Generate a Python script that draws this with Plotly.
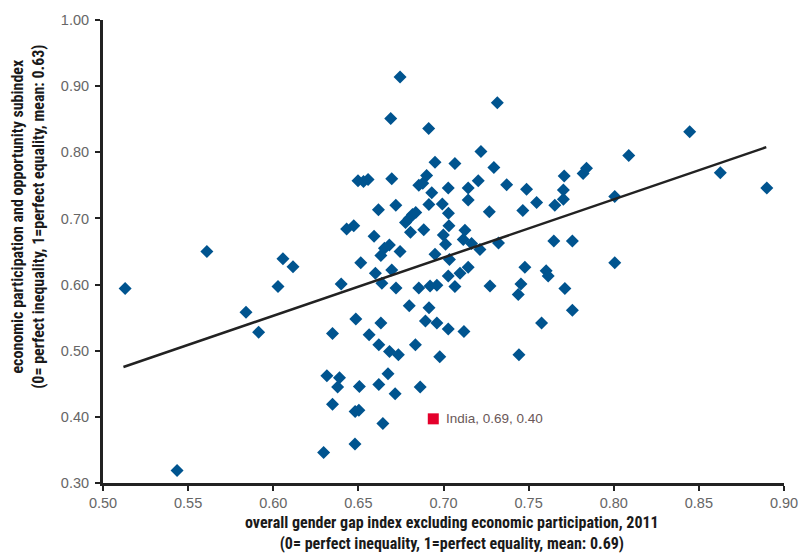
import plotly.graph_objects as go

# Countries: (overall gender gap index excl. economic participation, economic participation subindex)
gap_index = [
    0.513, 0.5435, 0.561, 0.584, 0.5914, 0.6028, 0.6057, 0.6116,
    0.6296, 0.6315, 0.6348, 0.6348, 0.6378, 0.6389, 0.6399, 0.6431, 0.6473,
    0.648, 0.6481, 0.6503, 0.6485, 0.6506, 0.6498, 0.653, 0.6557, 0.6514,
    0.6563, 0.6592, 0.66, 0.6618, 0.662, 0.662, 0.6632, 0.6638, 0.6632,
    0.6644, 0.6653, 0.6674, 0.6683, 0.6682, 0.669, 0.6696, 0.6696, 0.6721,
    0.6716, 0.672, 0.6735, 0.6745, 0.6745, 0.6777, 0.6798, 0.6818, 0.6837,
    0.6799, 0.6806, 0.6835, 0.6855, 0.6878, 0.6855, 0.6863, 0.6884, 0.6894,
    0.6901, 0.6913, 0.6914, 0.6915, 0.6921, 0.6931, 0.695, 0.695, 0.6961,
    0.6961, 0.6978, 0.6993, 0.6999, 0.7012, 0.7028, 0.7029, 0.7032, 0.7035,
    0.7028, 0.7028, 0.7067, 0.7067, 0.7097, 0.7116, 0.7126, 0.712, 0.7145,
    0.7145, 0.7145, 0.7165, 0.7204, 0.7214, 0.722, 0.7269, 0.7273, 0.7296,
    0.7316, 0.7323, 0.7371, 0.7439, 0.7443, 0.7455, 0.7466, 0.7478, 0.7488,
    0.7547, 0.7576, 0.7603, 0.7615, 0.7648, 0.7654, 0.7704, 0.7704, 0.7709,
    0.7713, 0.7757, 0.7757, 0.782, 0.784, 0.8006, 0.8006, 0.8088, 0.8446,
    0.8626, 0.8899,
]
econ_subindex = [
    0.594, 0.319, 0.650, 0.558, 0.528, 0.597, 0.639, 0.627,
    0.346, 0.462, 0.419, 0.526, 0.445, 0.459, 0.601, 0.684, 0.689,
    0.359, 0.408, 0.410, 0.548, 0.446, 0.757, 0.756, 0.759, 0.633,
    0.524, 0.673, 0.617, 0.713, 0.509, 0.449, 0.542, 0.602, 0.644,
    0.390, 0.655, 0.465, 0.499, 0.660, 0.851, 0.760, 0.622, 0.595,
    0.435, 0.720, 0.494, 0.914, 0.650, 0.694, 0.700, 0.706, 0.709,
    0.568, 0.679, 0.509, 0.750, 0.753, 0.595, 0.445, 0.683, 0.545,
    0.765, 0.836, 0.721, 0.565, 0.598, 0.739, 0.785, 0.646, 0.599,
    0.542, 0.491, 0.722, 0.675, 0.661, 0.746, 0.708, 0.689, 0.638,
    0.613, 0.533, 0.783, 0.597, 0.617, 0.668, 0.682, 0.529, 0.746,
    0.728, 0.626, 0.662, 0.757, 0.653, 0.801, 0.710, 0.598, 0.777,
    0.875, 0.663, 0.751, 0.585, 0.494, 0.601, 0.712, 0.626, 0.744,
    0.724, 0.542, 0.621, 0.613, 0.666, 0.720, 0.743, 0.729, 0.764,
    0.594, 0.666, 0.561, 0.768, 0.776, 0.733, 0.633, 0.795, 0.831,
    0.769, 0.746,
]

highlight_name = "India"
highlight_x = [0.694]
highlight_y = [0.397]
highlight_label = "India, 0.69, 0.40"

# Linear trendline endpoints
trend_x = [0.512, 0.8896]
trend_y = [0.4754, 0.8077]

x_ticks = [0.50, 0.55, 0.60, 0.65, 0.70, 0.75, 0.80, 0.85, 0.90]
y_ticks = [0.30, 0.40, 0.50, 0.60, 0.70, 0.80, 0.90, 1.00]

x_title = ("<b>overall gender gap index excluding economic participation, 2011</b><br>"
           "<b>(0= perfect inequality, 1=perfect equality, mean: 0.69)</b>")
y_title = ("<b>economic participation and opportunity subindex</b><br>"
           "<b>(0= perfect inequality, 1=perfect equality, mean: 0.63)</b>")

NARROW = "Liberation Sans Narrow, Roboto Condensed, Arial Narrow, sans-serif"
REGULAR = "Liberation Sans, Arial, Helvetica, sans-serif"

fig = go.Figure()
fig.add_trace(go.Scatter(
    x=gap_index, y=econ_subindex, mode="markers",
    marker=dict(symbol="diamond", size=10, color="#00548F", line=dict(width=0)),
    showlegend=False, hoverinfo="x+y",
))
fig.add_trace(go.Scatter(
    x=trend_x, y=trend_y, mode="lines",
    line=dict(color="#222222", width=2.5),
    showlegend=False, hoverinfo="skip",
))
fig.add_trace(go.Scatter(
    x=highlight_x, y=highlight_y, mode="markers",
    marker=dict(symbol="square", size=11, color="#E4002B"),
    name=highlight_name, showlegend=False,
))

axis_common = dict(
    showgrid=False, zeroline=False, showline=True, linecolor="#222222", linewidth=3,
    ticks="outside", ticklen=5, tickwidth=1.5, tickcolor="#222222",
    tickfont=dict(family=REGULAR, size=14.5, color="#666666"),
    tickformat=".2f", mirror=False, automargin=False,
)
fig.update_xaxes(range=[0.5, 0.9], tickvals=x_ticks, **axis_common)
fig.update_yaxes(range=[0.3, 1.0], tickvals=y_ticks, ticklabelstandoff=3, **axis_common)

fig.add_annotation(
    text=highlight_label, x=highlight_x[0], y=highlight_y[0], xref="x", yref="y",
    xanchor="left", yanchor="middle", xshift=11, showarrow=False,
    font=dict(family=REGULAR, size=13.5, color="#6a5858"),
)
fig.add_annotation(
    text=x_title, x=0.5125, y=-0.109, xref="paper", yref="paper",
    xanchor="center", yanchor="middle", showarrow=False,
    font=dict(family=NARROW, size=16, color="#1a1a1a"),
)
fig.add_annotation(
    text=y_title, x=-0.11, y=0.575, xref="paper", yref="paper",
    xanchor="center", yanchor="middle", textangle=-90, showarrow=False,
    font=dict(family=NARROW, size=16, color="#1a1a1a"),
)

fig.update_layout(
    width=799, height=553,
    margin=dict(l=102.5, r=14.5, t=20, b=69.5, autoexpand=False),
    plot_bgcolor="white", paper_bgcolor="white",
    font=dict(family=REGULAR),
)
fig.write_html(
    "out.html",
    config={"displayModeBar": False},
    post_script="document.body.style.margin='0';document.body.style.overflow='hidden';",
)
